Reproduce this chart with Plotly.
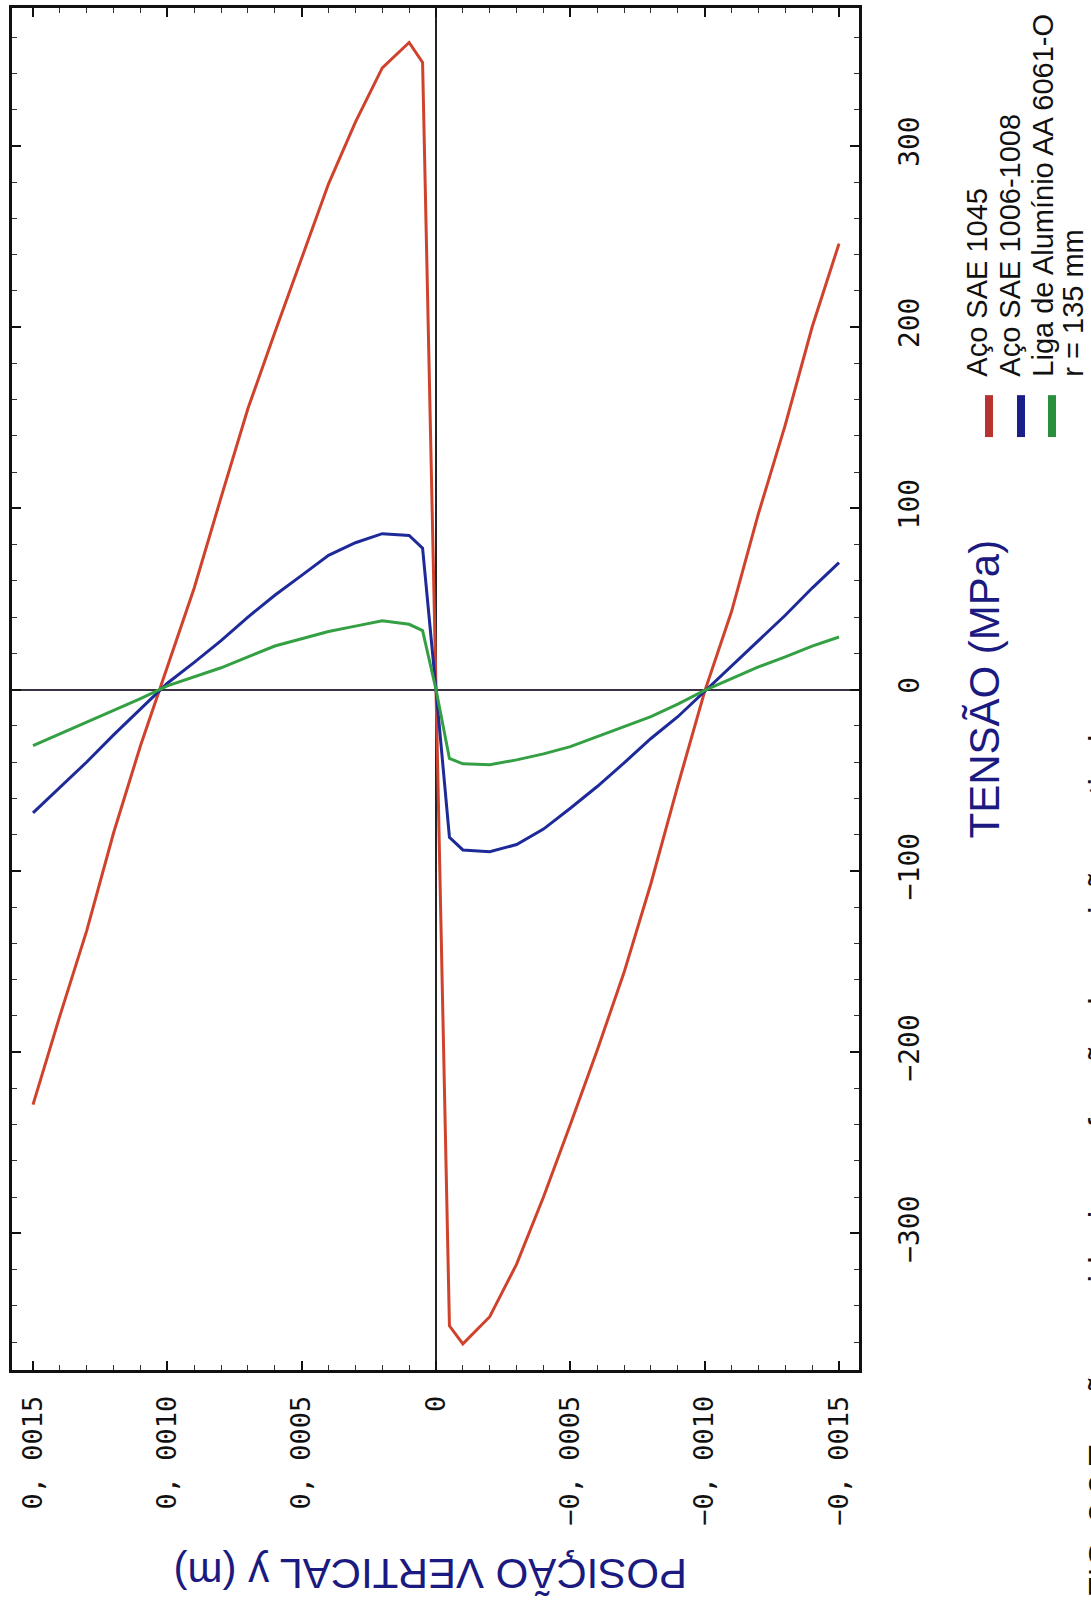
import plotly.graph_objects as go

# ---------------- data ----------------
# vertical position y (m)
position_m = [0.0015, 0.0014, 0.0013, 0.0012, 0.0011, 0.0010, 0.0009, 0.0008,
              0.0007, 0.0006, 0.0005, 0.0004, 0.0003, 0.0002, 0.0001, 0.00005, 0.0,
              -0.00005, -0.0001, -0.0002, -0.0003, -0.0004, -0.0005, -0.0006,
              -0.0007, -0.0008, -0.0009, -0.0010, -0.0011, -0.0012, -0.0013,
              -0.0014, -0.0015]

# residual stress (MPa)
aco_1045 = [-229, -180, -133, -79, -31, 12, 56, 106, 155, 197, 238, 279, 313,
            343, 357, 346, 0,
            -351, -361, -346, -317, -280, -240, -199, -156, -107, -53, -1, 43,
            97, 146, 200, 246]
aco_1006 = [-68, -54, -40, -25, -11, 3.5, 15, 27, 40, 52, 63, 74, 81, 86, 85,
            78, 0,
            -81.5, -88.5, -89.5, -85.5, -77, -65.5, -53.5, -40.5, -27, -15, -1,
            13, 27, 41, 56, 70]
al_6061 = [-31, -24.5, -18, -11.5, -5, 2, 7, 12, 18, 24, 28, 32, 35, 38, 36,
           32.5, 0,
           -38, -41, -41.5, -38.8, -35.5, -31.5, -26, -20.5, -15, -8, -0.5,
           6, 12.5, 18, 24, 29]

series_names = ["Aço SAE 1045", "Aço SAE 1006-1008", "Liga de Alumínio AA 6061-O"]
series_values = [aco_1045, aco_1006, al_6061]
series_colors = ["#cf432d", "#1d2a98", "#34a043"]
legend_bar_colors = ["#b8322f", "#1a1f88", "#2a8f3c"]
extra_note = "r = 135 mm"

pos_tickvals = [0.0015, 0.0010, 0.0005, 0.0, -0.0005, -0.0010, -0.0015]
pos_ticktext = ["0, 0015", "0, 0010", "0, 0005", "0",
                "−0, 0005", "−0, 0010", "−0, 0015"]
tens_tickvals = [-300, -200, -100, 0, 100, 200, 300]
tens_ticktext = ["−300", "−200", "−100", "0", "100", "200", "300"]

x_title = "POSIÇÃO VERTICAL y (m)"
y_title = "TENSÃO (MPa)"
caption = "FIG. 3.3 Tensões residuais em função da posição vertical y"

# ---------------- layout geometry ----------------
W, H = 1091, 1608
PL, PR, PT, PB = 12, 859, 5, 1370   # plot area in pixels


def fx(px):
    return (px - PL) / (PR - PL)


def fy(py):
    return (PB - py) / (PB - PT)


fig = go.Figure()
for name, vals, col in zip(series_names, series_values, series_colors):
    fig.add_trace(go.Scatter(x=position_m, y=vals, mode="lines", name=name,
                             line=dict(color=col, width=3),
                             showlegend=False))

tick_font = dict(family="DejaVu Sans Mono", size=27, color="#111111")

fig.update_layout(
    width=W, height=H, autosize=False,
    margin=dict(l=PL, r=W - PR, t=PT, b=H - PB, pad=0),
    paper_bgcolor="white", plot_bgcolor="white",
    showlegend=False,
    xaxis=dict(
        range=[0.0015782, -0.0015744],
        tickmode="array", tickvals=pos_tickvals, ticktext=pos_ticktext,
        tickangle=-90, tickfont=tick_font, ticklabelstandoff=12,
        ticks="inside", ticklen=9, tickwidth=2, tickcolor="#111111",
        minor=dict(tickmode="linear", tick0=0, dtick=0.0001, ticks="inside",
                   ticklen=5, tickwidth=1.2, tickcolor="#333333"),
        showline=True, linecolor="#111111", linewidth=3, mirror="ticks",
        showgrid=False,
        zeroline=True, zerolinecolor="#222222", zerolinewidth=1.6,
    ),
    yaxis=dict(
        side="right",
        range=[-375.4, 376],
        tickmode="array", tickvals=tens_tickvals, ticktext=tens_ticktext,
        tickangle=-90, tickfont=dict(family="DejaVu Sans Mono", size=28,
                                     color="#111111"),
        ticklabelstandoff=23,
        ticks="inside", ticklen=9, tickwidth=2, tickcolor="#111111",
        minor=dict(tickmode="linear", tick0=0, dtick=20, ticks="inside",
                   ticklen=5, tickwidth=1.2, tickcolor="#333333"),
        showline=True, linecolor="#111111", linewidth=3, mirror="ticks",
        showgrid=False,
        zeroline=True, zerolinecolor="#3a3244", zerolinewidth=1.6,
    ),
)

annotations = [
    dict(text=y_title, x=fx(984), y=fy(688), xref="paper", yref="paper",
         showarrow=False, textangle=-90, xanchor="center", yanchor="middle",
         font=dict(family="Liberation Sans", size=42, color="#1a1a80")),
    dict(text=x_title, x=fx(431), y=fy(1574), xref="paper", yref="paper",
         showarrow=False, textangle=180, xanchor="center", yanchor="middle",
         font=dict(family="Liberation Sans", size=42, color="#1a1a80")),
]

legend_lines = series_names + [extra_note]
legend_x = [977, 1010, 1043, 1073]
for txt, lx in zip(legend_lines, legend_x):
    annotations.append(dict(
        text=txt, x=fx(lx), y=fy(376), xref="paper", yref="paper",
        showarrow=False, textangle=-90, xanchor="center", yanchor="bottom",
        borderpad=0,
        font=dict(family="Liberation Sans", size=29, color="#111111")))

annotations.append(dict(
    text=caption, x=fx(1079), y=fy(1600), xref="paper", yref="paper",
    showarrow=False, textangle=-90, xanchor="left", yanchor="bottom",
    font=dict(family="Liberation Sans", size=34, color="#111111")))

fig.update_layout(annotations=annotations)

bar_x = [(985, 993), (1017, 1025), (1048, 1056)]
for (x0, x1), col in zip(bar_x, legend_bar_colors):
    fig.add_shape(type="rect", xref="paper", yref="paper",
                  x0=fx(x0), x1=fx(x1), y0=fy(435), y1=fy(393),
                  fillcolor=col, line=dict(width=0))

fig.write_html("out.html")
